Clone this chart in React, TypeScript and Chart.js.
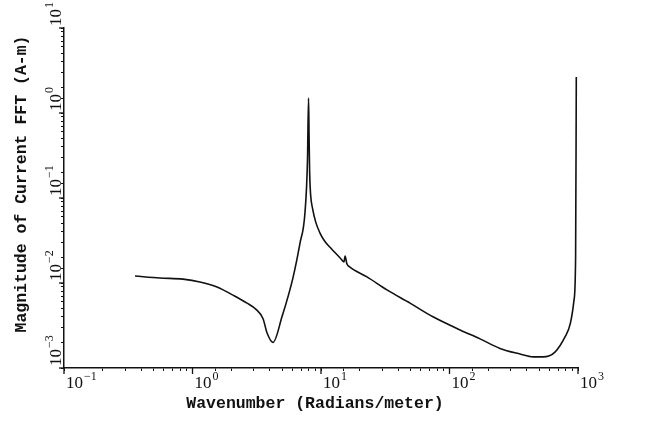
import { useEffect, useRef } from "react";
import { Chart, registerables } from "chart.js";

Chart.register(...registerables);

// Wavenumber (radians/meter)
const wavenumber = [
  0.357, 0.558, 0.843, 1.143, 1.552, 2.066, 2.656, 3.12, 3.54, 3.8, 4.23, 4.97,
  6.05, 6.87, 7.5, 7.85, 8.0, 8.08, 8.16, 8.3, 8.6, 9.1, 9.82, 10.7, 11.7,
  14.1, 15.1, 15.4, 15.9, 16.8, 22.8, 32.6, 49.3, 74.4, 121, 173, 247, 354,
  447, 534, 662, 792, 870, 930, 958, 970,
];

// Magnitude of current FFT (A-m)
const magnitude = [
  0.0121, 0.01145, 0.0111, 0.0103, 0.009, 0.0072, 0.0058, 0.0049, 0.0038,
  0.0026, 0.002, 0.004, 0.0115, 0.0296, 0.0667, 0.28, 1.5, 0.5, 0.2, 0.11,
  0.075, 0.052, 0.0387, 0.031, 0.0265, 0.0197, 0.0177, 0.0208, 0.0168, 0.0154,
  0.0118, 0.0083, 0.0058, 0.004, 0.0028, 0.0022, 0.0017, 0.00146, 0.00135,
  0.00135, 0.00154, 0.00232, 0.0033, 0.0062, 0.02, 2.65,
];

const xTickExponents = [-1, 0, 1, 2, 3];
const yTickExponents = [-3, -2, -1, 0, 1];
const xAxisTitle = "Wavenumber (Radians/meter)";
const yAxisTitle = "Magnitude of Current FFT (A-m)";

const expText = (e: number) => (e < 0 ? "\u2212" + String(-e) : String(e));

const labelsPlugin = {
  id: "customLabels",
  afterDraw(chart: any) {
    const { ctx, chartArea } = chart;
    const x = chart.scales.x;
    const y = chart.scales.y;
    ctx.save();
    ctx.fillStyle = "#111";
    ctx.strokeStyle = "#111";
    ctx.lineWidth = 1.3;
    // longer major ticks
    xTickExponents.forEach((e) => {
      const p = x.getPixelForValue(Math.pow(10, e));
      ctx.beginPath();
      ctx.moveTo(p, chartArea.bottom);
      ctx.lineTo(p, chartArea.bottom + 6);
      ctx.stroke();
    });
    yTickExponents.forEach((e) => {
      const p = y.getPixelForValue(Math.pow(10, e));
      ctx.beginPath();
      ctx.moveTo(chartArea.left, p);
      ctx.lineTo(chartArea.left - 5, p);
      ctx.stroke();
    });
    // x tick labels
    ctx.textAlign = "left";
    ctx.textBaseline = "alphabetic";
    xTickExponents.forEach((e) => {
      const p = x.getPixelForValue(Math.pow(10, e));
      ctx.font = '17px "Liberation Serif"';
      ctx.fillText("10", p + 2, chartArea.bottom + 20);
      const w = ctx.measureText("10").width;
      ctx.font = '12px "Liberation Serif"';
      ctx.fillText(expText(e), p + 2 + w + 1, chartArea.bottom + 12);
    });
    // y tick labels (rotated)
    yTickExponents.forEach((e) => {
      const p = y.getPixelForValue(Math.pow(10, e));
      ctx.save();
      ctx.translate(chartArea.left - 3, p - 2);
      ctx.rotate(-Math.PI / 2);
      ctx.font = '17px "Liberation Serif"';
      ctx.fillText("10", 0, 0);
      const w = ctx.measureText("10").width;
      ctx.font = '12px "Liberation Serif"';
      ctx.fillText(expText(e), w + 1, -8);
      ctx.restore();
    });
    // axis titles
    ctx.font = 'bold 16.5px "Liberation Mono"';
    ctx.textAlign = "center";
    ctx.fillText(xAxisTitle, 315, 408);
    ctx.save();
    ctx.translate(26, 184);
    ctx.rotate(-Math.PI / 2);
    ctx.fillText(yAxisTitle, 0, 0);
    ctx.restore();
    ctx.restore();
  },
};

export default function App() {
  const canvasRef = useRef<HTMLCanvasElement | null>(null);

  useEffect(() => {
    if (!canvasRef.current) return;
    const points = wavenumber.map((k, i) => ({ x: k, y: magnitude[i] }));
    const chart = new Chart(canvasRef.current, {
      type: "line",
      data: {
        datasets: [
          {
            data: points,
            borderColor: "#111",
            borderWidth: 1.6,
            pointRadius: 0,
            fill: false,
            cubicInterpolationMode: "monotone",
          },
        ],
      },
      options: {
        responsive: false,
        animation: false,
        devicePixelRatio: 1,
        layout: { padding: { left: 0, right: 73, top: 28, bottom: 0 } },
        plugins: {
          legend: { display: false },
          tooltip: { enabled: false },
        },
        scales: {
          x: {
            type: "logarithmic",
            position: "bottom",
            min: 0.1,
            max: 1000,
            afterFit: (s: any) => {
              s.height = 55;
            },
            ticks: { display: false },
            grid: {
              drawOnChartArea: false,
              drawTicks: true,
              tickLength: 3,
              color: "#111",
              lineWidth: 1,
            },
            border: { display: true, color: "#111", width: 1.5 },
          },
          y: {
            type: "logarithmic",
            position: "left",
            min: 0.001,
            max: 10,
            afterFit: (s: any) => {
              s.width = 64;
            },
            ticks: { display: false },
            grid: {
              drawOnChartArea: false,
              drawTicks: true,
              tickLength: 3,
              color: "#111",
              lineWidth: 1,
            },
            border: { display: true, color: "#111", width: 1.5 },
          },
        },
      } as any,
      plugins: [labelsPlugin],
    });
    return () => chart.destroy();
  }, []);

  return (
    <div style={{ position: "absolute", left: 0, top: 0, width: 651, height: 423, background: "#fff" }}>
      <canvas ref={canvasRef} width={651} height={423} />
    </div>
  );
}
